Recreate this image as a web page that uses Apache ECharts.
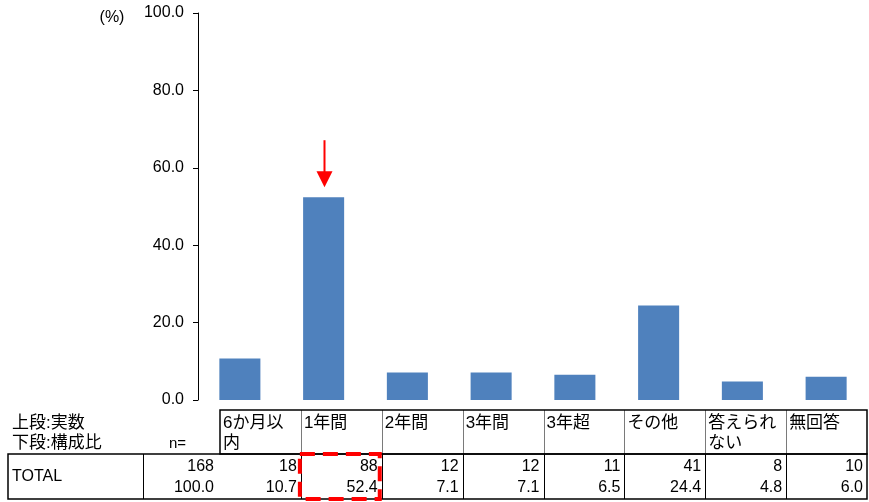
<!DOCTYPE html>
<html>
<head>
<meta charset="utf-8">
<script src="https://cdn.jsdelivr.net/npm/echarts@6/dist/echarts.min.js"></script>
<style>
  html, body { margin: 0; padding: 0; background: #fff; }
  #chart { width: 869px; height: 502px; }
</style>
</head>
<body>
<div id="chart"></div>
<script>
// Response categories (line breaks as shown in the table header)
const categories = ['6か月以\n内', '1年間', '2年間', '3年間', '3年超', 'その他', '答えられ\nない', '無回答'];
// Upper row: counts; lower row: share of total (%)
const counts = [18, 88, 12, 12, 11, 41, 8, 10];
const shares = [10.7, 52.4, 7.1, 7.1, 6.5, 24.4, 4.8, 6.0];
const totalCount = 168;
const totalShare = 100.0;
const rowLabel = 'TOTAL';
const legendLines = ['上段:実数', '下段:構成比'];
const unitLabel = '(%)';
const highlightIndex = 1;

const FONT = '"Liberation Sans", Arial, "Noto Sans CJK JP", sans-serif';

const chart = echarts.init(document.getElementById('chart'), null, { renderer: 'canvas' });

// ---- table layout ----
const tableLeft = 8, nColRight = 220, tableRight = 867;
const headTop = 410, rowTop = 454, rowBottom = 499, labelColRight = 143;
const colW = (tableRight - nColRight) / categories.length;
const colEdge = i => nColRight + i * colW;

function buildTable() {
  const g = [];
  // header box
  g.push({ type: 'rect', shape: { x: nColRight, y: headTop, width: tableRight - nColRight, height: rowTop - headTop },
    style: { fill: 'none', stroke: '#000', lineWidth: 1.5 }, z: 10 });
  // data row box
  g.push({ type: 'rect', shape: { x: tableLeft, y: rowTop, width: tableRight - tableLeft, height: rowBottom - rowTop },
    style: { fill: 'none', stroke: '#000', lineWidth: 1.5 }, z: 10 });
  // data row separators
  [labelColRight].concat(categories.slice(1).map((_, i) => colEdge(i + 1))).forEach(x => {
    g.push({ type: 'line', shape: { x1: Math.round(x) + 0.5, y1: rowTop, x2: Math.round(x) + 0.5, y2: rowBottom },
      style: { stroke: '#000', lineWidth: 1 }, z: 10 });
  });
  // header separators (light)
  categories.slice(1).forEach((_, i) => {
    const x = Math.round(colEdge(i + 1)) + 0.5;
    g.push({ type: 'line', shape: { x1: x, y1: headTop, x2: x, y2: rowTop },
      style: { stroke: '#7a7a7a', lineWidth: 1 }, z: 9 });
  });
  // header labels
  categories.forEach((c, i) => {
    g.push({ type: 'text', x: colEdge(i) + 3, y: headTop + 3,
      style: { text: c, font: '17px ' + FONT, fill: '#000', textAlign: 'left', textVerticalAlign: 'top', lineHeight: 20 }, z: 11 });
  });
  // row legend
  g.push({ type: 'text', x: 12, y: 423, style: { text: legendLines[0], font: '17px ' + FONT, fill: '#000', textVerticalAlign: 'middle' }, z: 11 });
  g.push({ type: 'text', x: 12, y: 443, style: { text: legendLines[1], font: '17px ' + FONT, fill: '#000', textVerticalAlign: 'middle' }, z: 11 });
  g.push({ type: 'text', x: 169, y: 444, style: { text: 'n=', font: '15px ' + FONT, fill: '#000', textVerticalAlign: 'middle' }, z: 11 });
  g.push({ type: 'text', x: 12, y: 477, style: { text: rowLabel, font: '16px ' + FONT, fill: '#000', textVerticalAlign: 'middle' }, z: 11 });
  // totals
  g.push({ type: 'text', x: nColRight - 6, y: 467, style: { text: String(totalCount), font: '16px ' + FONT, fill: '#000', textAlign: 'right', textVerticalAlign: 'middle' }, z: 11 });
  g.push({ type: 'text', x: nColRight - 6, y: 488, style: { text: totalShare.toFixed(1), font: '16px ' + FONT, fill: '#000', textAlign: 'right', textVerticalAlign: 'middle' }, z: 11 });
  // per-category values
  categories.forEach((_, i) => {
    const xr = colEdge(i + 1) - 4;
    g.push({ type: 'text', x: xr, y: 467, style: { text: String(counts[i]), font: '16px ' + FONT, fill: '#000', textAlign: 'right', textVerticalAlign: 'middle' }, z: 11 });
    g.push({ type: 'text', x: xr, y: 488, style: { text: shares[i].toFixed(1), font: '16px ' + FONT, fill: '#000', textAlign: 'right', textVerticalAlign: 'middle' }, z: 11 });
  });
  // highlight box around the emphasised cell
  const hx = colEdge(highlightIndex), hw = colW;
  g.push({ type: 'rect', shape: { x: hx - 1, y: rowTop, width: hw - 1, height: rowBottom - rowTop },
    style: { fill: 'none', stroke: '#ff0000', lineWidth: 4, lineDash: [15, 8] }, z: 20 });
  // unit label
  g.push({ type: 'text', x: 112, y: 18, style: { text: unitLabel, font: '16px ' + FONT, fill: '#000', textAlign: 'center', textVerticalAlign: 'middle' }, z: 11 });
  return g;
}

chart.setOption({
  animation: false,
  backgroundColor: '#fff',
  grid: { left: 198, right: 1, top: 13, bottom: 102 },
  xAxis: {
    type: 'category',
    data: categories,
    axisLine: { show: false },
    axisTick: { show: false },
    axisLabel: { show: false },
    splitLine: { show: false }
  },
  yAxis: {
    type: 'value',
    min: 0, max: 100, interval: 20,
    axisLine: { show: true, lineStyle: { color: '#000', width: 1 } },
    axisTick: { show: true, length: 5, lineStyle: { color: '#000' } },
    axisLabel: { color: '#000', fontSize: 16, fontFamily: FONT, margin: 14, formatter: v => v.toFixed(1) },
    splitLine: { show: false }
  },
  series: [{
    type: 'bar',
    data: shares,
    barWidth: '49%',
    itemStyle: { color: '#4F81BD' }
  }],
  graphic: buildTable()
});

// arrow pointing at the emphasised bar
const barTop = chart.convertToPixel({ seriesIndex: 0 }, [highlightIndex, shares[highlightIndex]]);
const ax = Math.round(barTop[0]) + 0.5, ay = barTop[1];
const overlay = buildTable();
overlay.push({ type: 'line', shape: { x1: ax, y1: ay - 57, x2: ax, y2: ay - 24 }, style: { stroke: '#ff0000', lineWidth: 2 }, z: 30 });
overlay.push({ type: 'polygon', shape: { points: [[ax - 8, ay - 26], [ax + 8, ay - 26], [ax, ay - 10]] }, style: { fill: '#ff0000' }, z: 30 });
chart.setOption({ graphic: overlay }, { replaceMerge: ['graphic'] });
</script>
</body>
</html>
